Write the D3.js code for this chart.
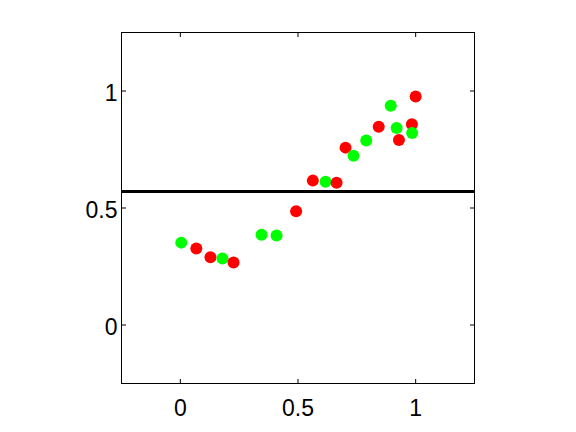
<!DOCTYPE html>
<html>
<head>
<meta charset="utf-8">
<script src="https://cdn.jsdelivr.net/npm/d3@7"></script>
<style>
  body { margin: 0; background: #fff; }
  svg { display: block; }
  text { font-family: "Liberation Sans", Arial, sans-serif; }
</style>
</head>
<body>
<script>
var greenX = [0.004, 0.179, 0.345, 0.409, 0.617, 0.736, 0.790, 0.894, 0.919, 0.985];
var greenY = [0.352, 0.284, 0.386, 0.382, 0.612, 0.723, 0.788, 0.937, 0.842, 0.821];
var redX = [0.068, 0.128, 0.226, 0.492, 0.563, 0.664, 0.702, 0.843, 0.929, 0.984, 1.000];
var redY = [0.327, 0.290, 0.267, 0.486, 0.617, 0.608, 0.758, 0.847, 0.791, 0.858, 0.976];
var threshold = 0.57;
var xTicks = [0, 0.5, 1];
var yTicks = [0, 0.5, 1];

var width = 576, height = 432;
var mLeft = 121.5, mRight = 474.5, mTop = 32.5, mBottom = 383.5;

var x = d3.scaleLinear().domain([-0.25, 1.25]).range([mLeft, mRight]);
var y = d3.scaleLinear().domain([-0.25, 1.25]).range([mBottom, mTop]);

var svg = d3.select("body").append("svg")
  .attr("width", width)
  .attr("height", height);

// box
svg.append("rect")
  .attr("x", mLeft).attr("y", mTop)
  .attr("width", mRight - mLeft).attr("height", mBottom - mTop)
  .attr("fill", "none").attr("stroke", "black").attr("stroke-width", 1);

// ticks on all four sides, pointing in
var tl = 4.5;
svg.selectAll(".xtb").data(xTicks).enter().append("line")
  .attr("x1", d => x(d)).attr("x2", d => x(d))
  .attr("y1", mBottom).attr("y2", mBottom - tl)
  .attr("stroke", "black");
svg.selectAll(".xtt").data(xTicks).enter().append("line")
  .attr("x1", d => x(d)).attr("x2", d => x(d))
  .attr("y1", mTop).attr("y2", mTop + tl)
  .attr("stroke", "black");
svg.selectAll(".ytl").data(yTicks).enter().append("line")
  .attr("x1", mLeft).attr("x2", mLeft + tl)
  .attr("y1", d => y(d)).attr("y2", d => y(d))
  .attr("stroke", "black");
svg.selectAll(".ytr").data(yTicks).enter().append("line")
  .attr("x1", mRight).attr("x2", mRight - tl)
  .attr("y1", d => y(d)).attr("y2", d => y(d))
  .attr("stroke", "black");

// tick labels
svg.selectAll(".xl").data(xTicks).enter().append("text")
  .attr("x", d => x(d)).attr("y", mBottom + 32)
  .attr("text-anchor", "middle")
  .attr("font-size", 23)
  .text(d => d3.format("")(d));
svg.selectAll(".yl").data(yTicks).enter().append("text")
  .attr("x", mLeft - 4).attr("y", d => y(d) + 10)
  .attr("text-anchor", "end")
  .attr("font-size", 23)
  .text(d => d3.format("")(d));

// threshold line
svg.append("line")
  .attr("x1", mLeft).attr("x2", mRight)
  .attr("y1", y(threshold)).attr("y2", y(threshold))
  .attr("stroke", "black").attr("stroke-width", 3);

// points, drawn in order of x so overlaps stack like the original
var pts = greenX.map((v, i) => ({x: v, y: greenY[i], c: "#00ff00"}))
  .concat(redX.map((v, i) => ({x: v, y: redY[i], c: "#ff0000"})))
  .sort((a, b) => a.x - b.x);

svg.selectAll(".pt").data(pts).enter().append("circle")
  .attr("cx", d => x(d.x)).attr("cy", d => y(d.y))
  .attr("r", 6).attr("fill", d => d.c);
</script>
</body>
</html>
